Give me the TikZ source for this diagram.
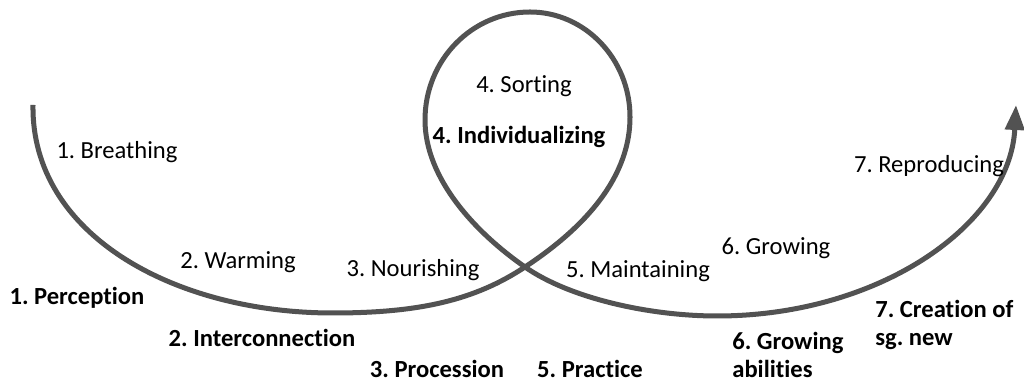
\documentclass[tikz,border=0pt]{standalone}
\usepackage{fontspec}
\setmainfont{Carlito}[Ligatures=NoCommon]
\usetikzlibrary{arrows.meta}
\frenchspacing

\tikzset{
	spiral/.style={draw=black!68, line width=2.85pt, -{Triangle[length=0.5cm,width=0.38cm]}},
	stage/.style={inner sep=0pt, font=\fontsize{14}{16}\selectfont},
	result/.style={stage, font=\fontsize{14}{16}\selectfont\bfseries, align=left}
}

\begin{document}
\begin{tikzpicture}[x=0.02cm, y=0.02cm]
		\useasboundingbox (0,0) rectangle (1024,384);
		\coordinate (start) at (33,279);
		\coordinate (low) at (333,71);
		\coordinate (cross) at (525,117);
		\coordinate (right) at (630,267);
		\coordinate (top) at (530,372);
		\coordinate (left) at (425,264);
		\coordinate (low2) at (717,68);
		\coordinate (tip) at (1016,279);
		% the path with its loop
		\draw[spiral] (start) .. controls (31,149) and (175,71) .. (low)
			.. controls (420,71) and (475,84) .. (cross)
			.. controls (575,150) and (630,200) .. (right)
			.. controls (630,325) and (585,372) .. (top)
			.. controls (472,372) and (425,324) .. (left)
			.. controls (425,205) and (476,151) .. (cross)
			.. controls (570,85.5) and (650,68) .. (low2)
			.. controls (880,68) and (1010,160) .. (tip);
		% stages above the line
		\node[stage] (breathing) at (117,232) {1. Breathing};
		\node[stage] (warming) at (238,122) {2. Warming};
		\node[stage] (nourishing) at (413,114) {3. Nourishing};
		\node[stage] (sorting) at (524,298) {4. Sorting};
		\node[stage] (maintaining) at (638,113) {5. Maintaining};
		\node[stage] (growing) at (776,136) {6. Growing};
		\node[stage] (reproducing) at (929,218) {7. Reproducing};
		% results below the line
		\node[result] (perception) at (77,86) {1. Perception};
		\node[result] (interconnection) at (262,46) {2. Interconnection};
		\node[result] (procession) at (437,15) {3. Procession};
		\node[result] (individualizing) at (519,247) {4. Individualizing};
		\node[result] (practice) at (590,15) {5. Practice};
		\node[result, anchor=west] (abilities) at (732,29) {6. Growing\\abilities};
		\node[result, anchor=west] (creation) at (875,59) {7. Creation of\\sg. new};
\end{tikzpicture}
\end{document}
